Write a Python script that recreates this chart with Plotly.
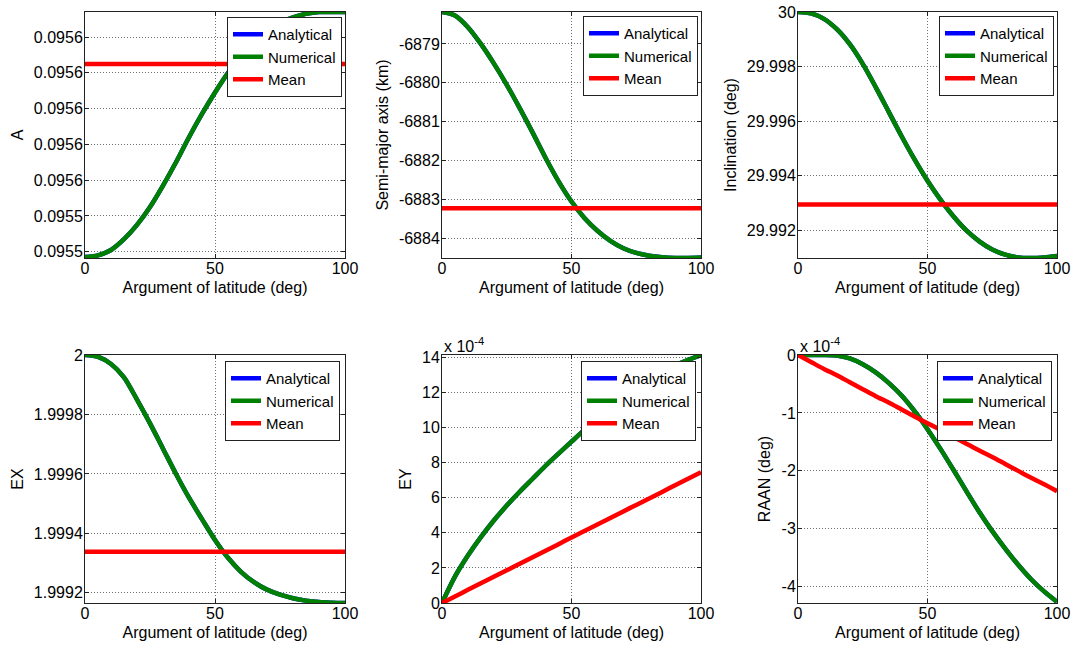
import plotly.graph_objects as go

# ---------------- data ----------------
arg_lat = [0, 5, 10, 15, 20, 25, 30, 35, 40, 45, 50, 55, 60, 65, 70, 75, 80, 85, 90, 95, 100]

a_num = [0.095517, 0.095518, 0.095521, 0.095527, 0.095535, 0.095545, 0.095557, 0.095570,
         0.095584, 0.095597, 0.095609, 0.095620, 0.095629, 0.095637, 0.095643, 0.095648,
         0.095651, 0.095653, 0.095654, 0.095654, 0.095654]
a_mean = [0.095625] * 21

sma_num = [-6878.18, -6878.27, -6878.57, -6879.00, -6879.50, -6880.05, -6880.65, -6881.28,
           -6881.93, -6882.53, -6883.05, -6883.47, -6883.80, -6884.06, -6884.25, -6884.37,
           -6884.44, -6884.48, -6884.50, -6884.50, -6884.49]
sma_mean = [-6883.22] * 21

inc_num = [30.0, 29.99995, 29.99975, 29.99937, 29.99882, 29.99810, 29.99725, 29.99635,
           29.99545, 29.99460, 29.99382, 29.99313, 29.99252, 29.99200, 29.99160, 29.99130,
           29.99111, 29.99101, 29.99099, 29.99101, 29.99106]
inc_mean = [29.99295] * 21

ex_num = [2.0, 1.999994, 1.999970, 1.999925, 1.999850, 1.999770, 1.999685, 1.999600,
          1.999520, 1.999448, 1.999378, 1.999318, 1.999271, 1.999236, 1.999211, 1.999194,
          1.999182, 1.999174, 1.999169, 1.999167, 1.999166]
ex_mean = [1.999338] * 21

# EY and RAAN in units of 1e-4
ey_num = [0.0, 1.5, 2.7, 3.75, 4.7, 5.55, 6.34, 7.08, 7.82, 8.51, 9.19, 9.86, 10.5, 11.1,
          11.7, 12.2, 12.7, 13.15, 13.55, 13.85, 14.13]
ey_mean = [0.0, 0.37, 0.75, 1.12, 1.49, 1.86, 2.24, 2.61, 2.98, 3.35, 3.73, 4.10, 4.47,
           4.84, 5.22, 5.59, 5.96, 6.33, 6.71, 7.08, 7.45]

raan_num = [0.0, 0.0, 0.0, -0.01, -0.06, -0.16, -0.30, -0.48, -0.70, -0.97, -1.28, -1.62,
            -1.98, -2.35, -2.71, -3.04, -3.34, -3.62, -3.87, -4.08, -4.26]
raan_mean = [0.0, -0.12, -0.24, -0.35, -0.47, -0.59, -0.71, -0.82, -0.94, -1.06, -1.18,
             -1.29, -1.41, -1.53, -1.65, -1.76, -1.88, -2.00, -2.12, -2.23, -2.35]

# analytical solution coincides with the numerical one (hidden beneath it)
a_ana, sma_ana, inc_ana, ex_ana, ey_ana, raan_ana = a_num, sma_num, inc_num, ex_num, ey_num, raan_num

x_ticks = [0, 50, 100]
a_ticks = [0.09552, 0.09554, 0.09556, 0.09558, 0.09560, 0.09562, 0.09564]
a_ticktext = ["0.0955", "0.0955", "0.0956", "0.0956", "0.0956", "0.0956", "0.0956"]
sma_ticks = [-6884, -6883, -6882, -6881, -6880, -6879]
inc_ticks = [29.992, 29.994, 29.996, 29.998, 30.0]
inc_ticktext = ["29.992", "29.994", "29.996", "29.998", "30"]
ex_ticks = [1.9992, 1.9994, 1.9996, 1.9998, 2.0]
ex_ticktext = ["1.9992", "1.9994", "1.9996", "1.9998", "2"]
ey_ticks = [0, 2, 4, 6, 8, 10, 12, 14]
raan_ticks = [-4, -3, -2, -1, 0]

ytitles = ["A", "Semi-major axis (km)", "Inclination (deg)", "EX", "EY", "RAAN (deg)"]
xtitle = "Argument of latitude (deg)"

# ---------------- layout geometry ----------------
W, H = 1075, 650
col_px = [(85, 345), (442, 701), (798, 1057)]
row_px = [(12, 258), (355, 603)]
legend_px = [(342, 17), (698, 16), (1054, 16), (340, 361), (696, 361), (1052, 361)]

FONT = "Arial, Liberation Sans, sans-serif"
GREEN, RED, BLUE = "#008000", "#FF0000", "#0000FF"
LW = 4.5

panels = [
    (a_ana, a_num, a_mean, [0.0955165, 0.095654], a_ticks, a_ticktext),
    (sma_ana, sma_num, sma_mean, [-6884.5, -6878.18], sma_ticks, [str(v) for v in sma_ticks]),
    (inc_ana, inc_num, inc_mean, [29.99099, 30.0], inc_ticks, inc_ticktext),
    (ex_ana, ex_num, ex_mean, [1.999166, 2.0], ex_ticks, ex_ticktext),
    (ey_ana, ey_num, ey_mean, [0, 14.13], ey_ticks, [str(v) for v in ey_ticks]),
    (raan_ana, raan_num, raan_mean, [-4.28, 0], raan_ticks, [str(v) for v in raan_ticks]),
]

fig = go.Figure()
layout = {}
for i, (ana, num, mean, yr, tv, tt) in enumerate(panels):
    r, c = divmod(i, 3)
    sfx = "" if i == 0 else str(i + 1)
    leg = "legend" + sfx
    xa, ya = "x" + sfx, "y" + sfx
    for name, ys, col in (("Analytical", ana, BLUE), ("Numerical", num, GREEN), ("Mean", mean, RED)):
        fig.add_trace(go.Scatter(x=arg_lat, y=ys, name=name, mode="lines",
                                 line=dict(color=col, width=LW, shape="spline", smoothing=0.8),
                                 xaxis=xa, yaxis=ya, legend=leg, showlegend=True))
    x0, x1 = col_px[c]
    y0, y1 = row_px[r]
    common = dict(showline=True, linecolor="#222222", linewidth=1, mirror="all",
                  ticks="inside", ticklen=4, tickcolor="#222222",
                  showgrid=True, gridcolor="#707070", griddash="1px,2px", gridwidth=1,
                  zeroline=False, tickfont=dict(family=FONT, size=16, color="black"),
                  automargin=False)
    layout["xaxis" + sfx] = dict(common, domain=[x0 / W, x1 / W], range=[0, 100],
                                 tickvals=x_ticks, anchor=ya, ticklabelstandoff=-4,
                                 title=dict(text=xtitle, font=dict(family=FONT, size=16, color="black"),
                                            standoff=5))
    layout["yaxis" + sfx] = dict(common, domain=[1 - y1 / H, 1 - y0 / H], range=yr,
                                 tickvals=tv, ticktext=tt, anchor=xa, ticklabelstandoff=-2,
                                 title=dict(text=ytitles[i], font=dict(family=FONT, size=16, color="black"),
                                            standoff=6))
    lx, ly = legend_px[i]
    layout[leg] = dict(x=lx / W, y=1 - ly / H, xanchor="right", yanchor="top",
                       xref="paper", yref="paper",
                       bgcolor="white", bordercolor="#222222", borderwidth=1,
                       font=dict(family=FONT, size=15, color="black"),
                       tracegroupgap=0, itemwidth=30)

fig.update_layout(**layout)
fig.update_layout(width=W, height=H, margin=dict(l=0, r=0, t=0, b=0),
                  paper_bgcolor="white", plot_bgcolor="white",
                  font=dict(family=FONT, size=16, color="black"))

# exponent labels for EY and RAAN panels
for c in (1, 2):
    x0 = col_px[c][0]
    fig.add_annotation(text="x 10<sup>-4</sup>", xref="paper", yref="paper",
                       x=x0 / W, y=1 - row_px[1][0] / H, xanchor="left", yanchor="bottom",
                       showarrow=False, font=dict(family=FONT, size=16, color="black"),
                       yshift=-2)

fig.write_html("out.html", config={"displayModeBar": False},
               post_script="document.body.style.margin='0';")
